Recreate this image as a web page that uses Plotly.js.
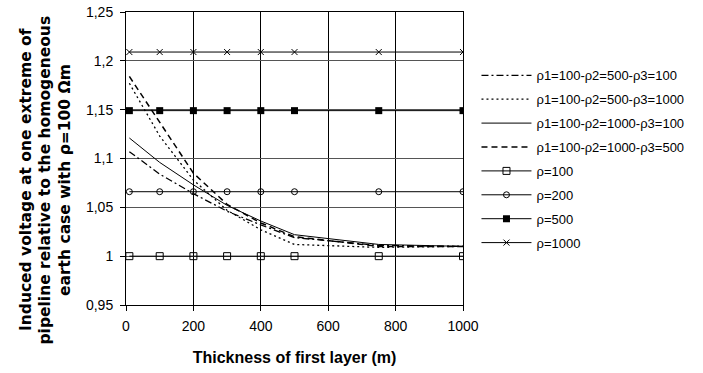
<!DOCTYPE html>
<html>
<head>
<meta charset="utf-8">
<script src="https://cdn.plot.ly/plotly-3.0.1.min.js"></script>
<style>html,body{margin:0;padding:0;background:#fff;}#chart{width:703px;height:373px;}</style>
</head>
<body>
<div id="chart"></div>
<script>
var thickness = [10, 100, 200, 300, 400, 500, 750, 1000];
var s500_100  = [1.107, 1.084, 1.064, 1.046, 1.032, 1.019, 1.011, 1.010];
var s500_1000 = [1.177, 1.123, 1.078, 1.047, 1.027, 1.012, 1.009, 1.010];
var s1000_100 = [1.121, 1.096, 1.073, 1.052, 1.036, 1.022, 1.012, 1.010];
var s1000_500 = [1.184, 1.137, 1.085, 1.053, 1.034, 1.020, 1.010, 1.010];
var rho100  = [1.000, 1.000, 1.000, 1.000, 1.000, 1.000, 1.000, 1.000];
var rho200  = [1.066, 1.066, 1.066, 1.066, 1.066, 1.066, 1.066, 1.066];
var rho500  = [1.149, 1.149, 1.149, 1.149, 1.149, 1.149, 1.149, 1.149];
var rho1000 = [1.209, 1.209, 1.209, 1.209, 1.209, 1.209, 1.209, 1.209];
var names = ["ρ1=100-ρ2=500-ρ3=100", "ρ1=100-ρ2=500-ρ3=1000", "ρ1=100-ρ2=1000-ρ3=100", "ρ1=100-ρ2=1000-ρ3=500", "ρ=100", "ρ=200", "ρ=500", "ρ=1000"];
var yTickVals = [0.95, 1, 1.05, 1.1, 1.15, 1.2, 1.25];
var yTickText = ["0,95", "1", "1,05", "1,1", "1,15", "1,2", "1,25"];
var xTickVals = [0, 200, 400, 600, 800, 1000];
var yTitleLines = ['Induced voltage at one extreme of', 'pipeline relative to the homogeneous', 'earth case with ρ=100 Ωm'];
var xTitle = 'Thickness of first layer (m)';

function tr(y, i, line, marker) {
  var t = {x: thickness, y: y, name: names[i], type: 'scatter', legendgroup: 'g' + i,
    line: Object.assign({color: '#000', width: 1}, line), mode: marker ? 'lines+markers' : 'lines'};
  if (marker) t.marker = marker;
  return t;
}
var data = [
  tr(s500_100, 0, {dash: '7px,3px,2px,3px', width: 1.3}),
  tr(s500_1000, 1, {dash: '2px,3px', width: 1.3}),
  tr(s1000_100, 2, {dash: 'solid', width: 1}),
  tr(s1000_500, 3, {dash: '6px,4px', width: 1.5}),
  tr(rho100, 4, {}, {symbol: 'square-open', size: 7, color: '#000', line: {width: 1, color: '#000'}}),
  tr(rho200, 5, {}, {symbol: 'circle-open', size: 6, color: '#000', line: {width: 1, color: '#000'}}),
  tr(rho500, 6, {}, {symbol: 'square', size: 7, color: '#000'}),
  tr(rho1000, 7, {}, {symbol: 'x-thin-open', size: 6, color: '#000', line: {width: 1, color: '#000'}})
];
var titleX = [-0.2967, -0.2389, -0.1810];
var annotations = yTitleLines.map(function (s, k) {
  return {text: s, xref: 'paper', yref: 'paper', x: titleX[k], y: 0.4266, xanchor: 'center', yanchor: 'middle',
    textangle: -90, showarrow: false,
    font: {family: 'DejaVu Sans, sans-serif', size: 15.5, weight: 'bold', color: '#000'}};
});
var layout = {
  width: 703, height: 373,
  margin: {l: 126, r: 240, t: 12, b: 68},
  paper_bgcolor: '#fff', plot_bgcolor: '#fff',
  font: {family: 'Liberation Sans, Arial, sans-serif', size: 14, color: '#000'},
  showlegend: true,
  legend: {x: 1.04, y: 0.835, xanchor: 'left', yanchor: 'top', font: {size: 13},
    tracegroupgap: 4, itemwidth: 50, bgcolor: 'rgba(0,0,0,0)'},
  xaxis: {range: [0, 1000], tickvals: xTickVals, ticks: 'outside', ticklen: 5, tickcolor: '#000',
    showline: true, linecolor: '#000', mirror: true, showgrid: true, gridcolor: '#000', gridwidth: 1,
    zeroline: false, tickfont: {size: 14}, ticklabelstandoff: 3,
    title: {text: xTitle, font: {size: 16, weight: 'bold'}, standoff: 19}},
  yaxis: {range: [0.95, 1.25], tickvals: yTickVals, ticktext: yTickText, ticks: 'outside', ticklen: 5,
    tickcolor: '#000', showline: true, linecolor: '#000', mirror: true, showgrid: true, gridcolor: '#555',
    gridwidth: 1, zeroline: false, tickfont: {size: 14}, ticklabelstandoff: 4},
  annotations: annotations
};
Plotly.newPlot('chart', data, layout, {displayModeBar: false, staticPlot: true});
</script>
</body>
</html>
